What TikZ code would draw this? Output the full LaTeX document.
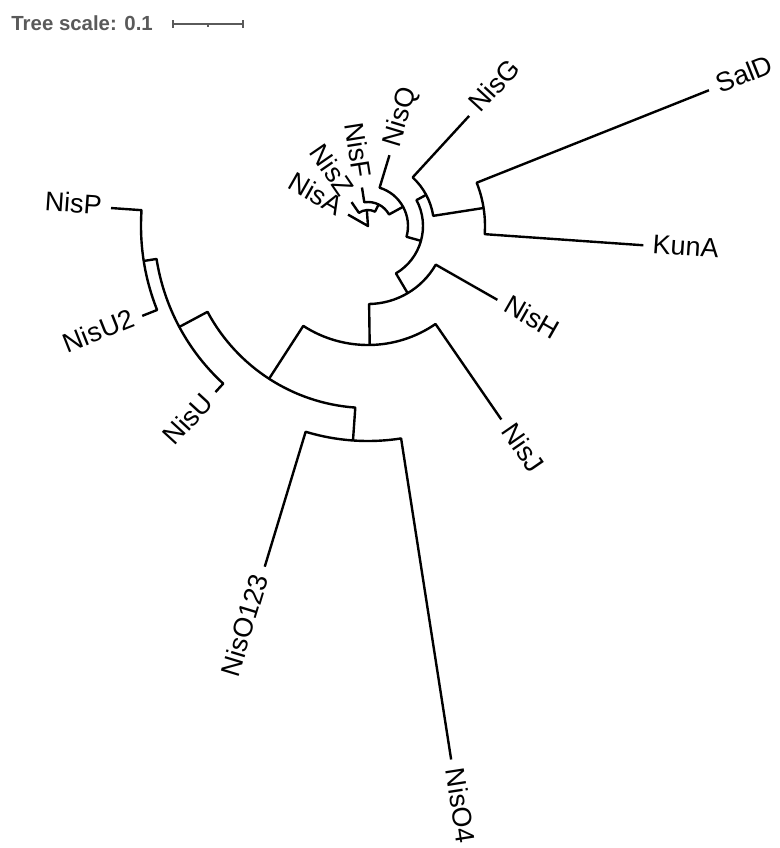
\documentclass[tikz,border=0pt]{standalone}
\usepackage{fontspec}
\setmainfont{Liberation Sans}
\usepackage{tikz}
\definecolor{scalegray}{HTML}{5A5A5A}
\tikzset{
  branch/.style = {line width=1.2pt, line join=round},% tree branch and arc
  leaf/.style = {inner ysep=0pt, inner xsep=4.5pt, text height=0.72em,
    text depth=0pt, font=\fontsize{13.5}{15}\selectfont},
  leaf_r/.style = {leaf, anchor=west},% label, right half of the circle
  leaf_l/.style = {leaf, anchor=east},% label, left half of the circle
  scale_txt/.style = {scalegray, anchor=base west, inner sep=0pt,
    font=\fontsize{10.2}{12}\selectfont\bfseries},
  scale_bar/.style = {scalegray, line width=0.8pt}
}

\begin{document}
\begin{tikzpicture}[x=0.5pt, y=0.5pt]
  \useasboundingbox (-368,-622) rectangle (412,226);
  % tree scale
  \node [scale_txt] (scale) at (-357,196) {Tree scale: 0.1};
  \coordinate (sb_l) at (-195,202);
  \coordinate (sb_m) at (-160,202);
  \coordinate (sb_r) at (-125,202);
  \draw [scale_bar] (sb_l) -- (sb_r)
    (sb_l) ++(0,-4) -- ++(0,8)
    (sb_r) ++(0,-4) -- ++(0,8)
    (sb_m) -- ++(0,-3);

  % leaves
  \node [leaf_l, rotate=-29.71] (nisa) at (150.29:23) {NisA};
  \node [leaf_l, rotate=-55.43] (nisz) at (124.57:29) {NisZ};
  \node [leaf_l, rotate=-81.14] (nisf) at (98.86:39) {NisF};
  \node [leaf_r, rotate=73.14] (nisq) at (73.14:74) {NisQ};
  \node [leaf_r, rotate=47.43] (nisg) at (47.43:149.5) {NisG};
  \node [leaf_r, rotate=21.71] (sald) at (21.71:367) {SalD};
  \node [leaf_r, rotate=-4] (kuna) at (-4:276) {KunA};
  \node [leaf_r, rotate=-29.71] (nish) at (-29.71:149) {NisH};
  \node [leaf_r, rotate=-55.43] (nisj) at (-55.43:235) {NisJ};
  \node [leaf_r, rotate=-81.14] (niso4) at (-81.14:540) {NisO4};
  \node [leaf_l, rotate=73.14] (niso123) at (-106.86:356) {NisO123};
  \node [leaf_l, rotate=47.43] (nisu) at (-132.57:225.5) {NisU};
  \node [leaf_l, rotate=21.71] (nisu2) at (-158.29:243) {NisU2};
  \node [leaf_l, rotate=-4] (nisp) at (176:257.6) {NisP};

  % inner nodes
  \coordinate (root) at (0,0);
  \coordinate (n8) at (94.19:16);
  \coordinate (n7) at (63.8:24);
  \coordinate (n6) at (28.74:40);
  \coordinate (n5) at (-15.65:55);
  \coordinate (gsk) at (28.14:66);
  \coordinate (sk) at (8.86:117);
  \coordinate (n4) at (-59.45:78);
  \coordinate (n3) at (-89.18:119);
  \coordinate (n2) at (-122.93:182);
  \coordinate (puu) at (-151.86:214);
  \coordinate (pu2) at (-171.14:227);
  \coordinate (o) at (-94:215);

  % branches, child -- arc of parent -- child
  \draw [branch] (nisa.east) -- (root) -- (n8);
  \draw [branch] (nisz.east) -- (124.57:16) arc[start angle=124.57, end angle=63.8, radius=16] -- (n7);
  \draw [branch] (nisf.east) -- (98.86:24) arc[start angle=98.86, end angle=28.74, radius=24] -- (n6);
  \draw [branch] (nisq.west) -- (73.14:40) arc[start angle=73.14, end angle=-15.65, radius=40] -- (n5);
  \draw [branch] (gsk) -- (28.14:55) arc[start angle=28.14, end angle=-59.45, radius=55] -- (n4);
  \draw [branch] (nisg.west) -- (47.43:66) arc[start angle=47.43, end angle=8.86, radius=66] -- (sk);
  \draw [branch] (sald.west) -- (21.71:117) arc[start angle=21.71, end angle=-4, radius=117] -- (kuna.west);
  \draw [branch] (n3) -- (-89.18:78) arc[start angle=-89.18, end angle=-29.71, radius=78] -- (nish.west);
  \draw [branch] (n2) -- (-122.93:119) arc[start angle=-122.93, end angle=-55.43, radius=119] -- (nisj.west);
  \draw [branch] (puu) -- (-151.86:182) arc[start angle=-151.86, end angle=-94, radius=182] -- (o);
  \draw [branch] (pu2) -- (-171.14:214) arc[start angle=-171.14, end angle=-132.57, radius=214] -- (nisu.east);
  \draw [branch] (nisp.east) -- (176:227) arc[start angle=176, end angle=201.71, radius=227] -- (nisu2.east);
  \draw [branch] (niso123.east) -- (-106.86:215) arc[start angle=-106.86, end angle=-81.14, radius=215] -- (niso4.west);
\end{tikzpicture}
\end{document}
